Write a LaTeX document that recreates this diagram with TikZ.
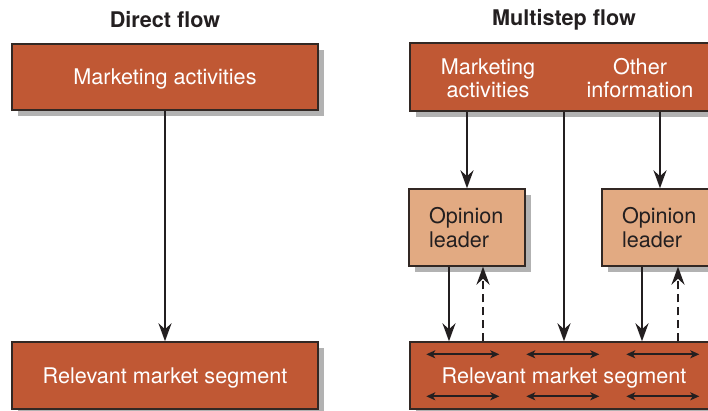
\documentclass[tikz,border=0pt]{standalone}
\usepackage{fontspec}
\setmainfont{TeX Gyre Heros}
\usetikzlibrary{positioning, arrows.meta, shadows, calc}
\definecolor{rustbox}{RGB}{192,88,52}
\definecolor{tanbox}{RGB}{226,170,130}
\definecolor{inkline}{RGB}{35,31,32}
\definecolor{edgegray}{RGB}{50,40,36}
\tikzset{
  boxtext/.style={
    text=white,
    align=center,
    inner sep=0pt,
    text depth=0pt,
    font=\fontsize{10.8}{11.5}\selectfont
  },
  flowbox/.style={
    boxtext,
    draw=edgegray,
    line width=0.7pt,
    fill=rustbox,
    drop shadow={shadow xshift=3pt, shadow yshift=-3pt, fill=black, opacity=0.3}
  },
  leaderbox/.style={
    flowbox,
    fill=tanbox,
    text=inkline,
    align=left,
    text depth={},
    inner xsep=10pt,
    text width=38pt,
    minimum height=38.5pt,
    font=\fontsize{10.8}{12}\selectfont
  },
  flowtitle/.style={
    text=inkline,
    font=\fontsize{10.8}{12}\selectfont\bfseries
  },
  flow/.style={
    draw=inkline,
    line width=1.3pt,
    -{Stealth[length=9pt, width=6.5pt, inset=3pt]}
  },
  feedback/.style={
    flow,
    dash pattern=on 4pt off 2.5pt
  },
  spread/.style={
    draw=inkline,
    line width=0.8pt,
    {Stealth[length=4.5pt, width=4pt, inset=1.2pt]}-{Stealth[length=4.5pt, width=4pt, inset=1.2pt]}
  }
}
\begin{document}
\begin{tikzpicture}[x=0.5pt, y=-0.5pt]
  \useasboundingbox (0,0) rectangle (708,411);
  \clip (0,0) rectangle (708,411);

  % Direct flow
  \node[flowtitle] (titleL) at (165,20) {Direct flow};
  \node[flowbox, minimum width=153pt, minimum height=33pt] (mktL) at (165,77) {Marketing activities};
  \node[flowbox, minimum width=153pt, minimum height=33.5pt] (segL) at (165,375.5) {Relevant market segment};
  \draw[flow] (mktL.south) -- (segL.north);

  % Multistep flow
  \node[flowtitle] (titleR) at (564,20) {Multistep flow};
  \node[flowbox, minimum width=154pt, minimum height=34pt] (mktR) at (564,77) {};
  \node[boxtext] (mktTxt) at (488,78) {Marketing\\activities};
  \node[boxtext] (otherTxt) at (640,78) {Other\\information};
  \node[leaderbox] (op1) at (467,227.5) {Opinion\\leader};
  \node[leaderbox] (op2) at (660,227.5) {Opinion\\leader};
  \node[flowbox, minimum width=154pt, minimum height=33.5pt] (segR) at (564,375.5) {Relevant market segment};

  \draw[flow] (op1.north |- mktR.south) -- (op1.north);
  \draw[flow] (op2.north |- mktR.south) -- (op2.north);
  \draw[flow] (segR.north |- mktR.south) -- (segR.north);

  \draw[flow] ($(op1.south)+(-18,0)$) -- ($(op1.south |- segR.north)+(-18,0)$);
  \draw[feedback] ($(op1.south |- segR.north)+(16,0)$) -- ($(op1.south)+(16,0)$);
  \draw[flow] ($(op2.south)+(-18,0)$) -- ($(op2.south |- segR.north)+(-18,0)$);
  \draw[feedback] ($(op2.south |- segR.north)+(18,0)$) -- ($(op2.south)+(18,0)$);

  % word of mouth inside the segment
  \foreach \dx in {17,117,217} {
    \foreach \dy in {13,55} {
      \draw[spread] ($(segR.north west)+(\dx,\dy)$) -- ++(73,0);
    }
  }
\end{tikzpicture}
\end{document}
